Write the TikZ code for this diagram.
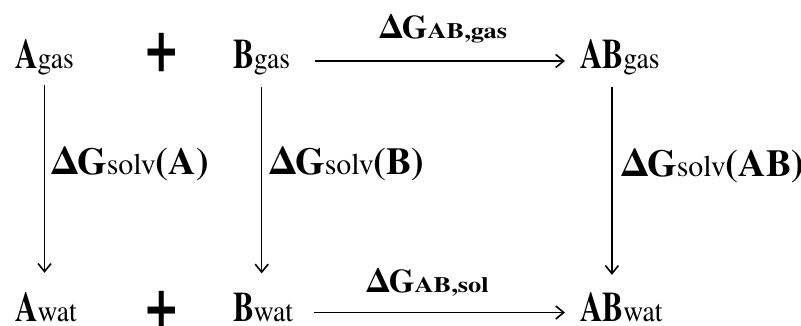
\documentclass[tikz,border=0pt]{standalone}
\usepackage{fontspec}
\usepackage{graphicx}
\usetikzlibrary{arrows.meta,calc}
\IfFontExistsTF{texgyretermes-regular.otf}{%
  \setmainfont{texgyretermes}[Extension=.otf,UprightFont=*-regular,BoldFont=*-bold]
  \newfontfamily\fSpBig{texgyretermes}[Extension=.otf,UprightFont=*-regular,BoldFont=*-bold,FakeStretch=0.74]
  \newfontfamily\fSpSmall{texgyretermes}[Extension=.otf,UprightFont=*-regular,BoldFont=*-bold,FakeStretch=0.92]
  \newfontfamily\fSub{texgyretermes}[Extension=.otf,UprightFont=*-regular,BoldFont=*-bold,FakeStretch=1.2]
}{%
  \setmainfont{Liberation Serif}
  \newfontfamily\fSpBig[FakeStretch=0.74]{Liberation Serif}
  \newfontfamily\fSpSmall[FakeStretch=0.92]{Liberation Serif}
  \newfontfamily\fSub[FakeStretch=1.2]{Liberation Serif}
}
\newcommand\spc[2]{{\fSpBig\bfseries\fontsize{42}{44}\selectfont #1}{\fSpSmall\fontsize{30}{32}\selectfont #2}}
\newcommand\solvlab[1]{{\bfseries\fontsize{38}{40}\selectfont ΔG}{\fontsize{30}{32}\selectfont solv}{\bfseries\fontsize{38}{40}\selectfont(#1)}}
\newcommand\rxnlab[1]{{\bfseries\fontsize{33}{35}\selectfont ΔG}{\fSub\bfseries\fontsize{22}{24}\selectfont #1}}
\newcommand\plussign{\scalebox{1}[1.4]{\bfseries\fontsize{57}{57}\selectfont +}}
\begin{document}
\begin{tikzpicture}[x=1pt,y=1pt,
  txt/.style={inner sep=0pt, anchor=base west},
  plusnode/.style={inner sep=0pt},
  arr/.style={line width=1.6pt, -{Straight Barb[length=8pt,width=13pt]}}]
\useasboundingbox (0,0) rectangle (801,326);
% species
\node[txt] (Agas)  at (15,257)  {\spc{A}{gas}};
\node[txt] (Bgas)  at (233,257) {\spc{B}{gas}};
\node[txt] (ABgas) at (580,257) {\spc{AB}{gas}};
\node[txt] (Awat)  at (15,4)    {\spc{A}{wat}};
\node[txt] (Bwat)  at (233,4)   {\spc{B}{wat}};
\node[txt] (ABwat) at (580,4)   {\spc{AB}{wat}};
% plus signs
\node[plusnode] (p1) at (162,273.5) {\plussign};
\node[plusnode] (p2) at (162,15)    {\plussign};
% labels
\node[txt] (lgas) at (380,287) {\rxnlab{AB,gas}};
\node[txt] (lsol) at (367,33)  {\rxnlab{AB,sol}};
\node[txt] (lA)   at (52,151)  {\solvlab{A}};
\node[txt] (lB)   at (270,151) {\solvlab{B}};
\node[txt] (lAB)  at (622,149) {\solvlab{AB}};
% horizontal arrows
\draw[arr] ([shift={(25,8)}]Bgas.base east) -- ([shift={(-15,8)}]ABgas.base west);
\draw[arr] ([shift={(21,9.5)}]Bwat.base east) -- ([shift={(-15,9.5)}]ABwat.base west);
% vertical arrows
\coordinate (atop)  at ([yshift=-9pt]Agas.south);
\coordinate (btop)  at ([yshift=-11pt]Bgas.south);
\coordinate (abtop) at ([shift={(-8,-11)}]ABgas.south);
\draw[arr] (atop)  -- ($(atop |- Awat.north)+(0,20)$);
\draw[arr] (btop)  -- ($(btop |- Bwat.north)+(0,20)$);
\draw[arr] (abtop) -- ($(abtop |- ABwat.north)+(0,18)$);
\end{tikzpicture}
\end{document}
